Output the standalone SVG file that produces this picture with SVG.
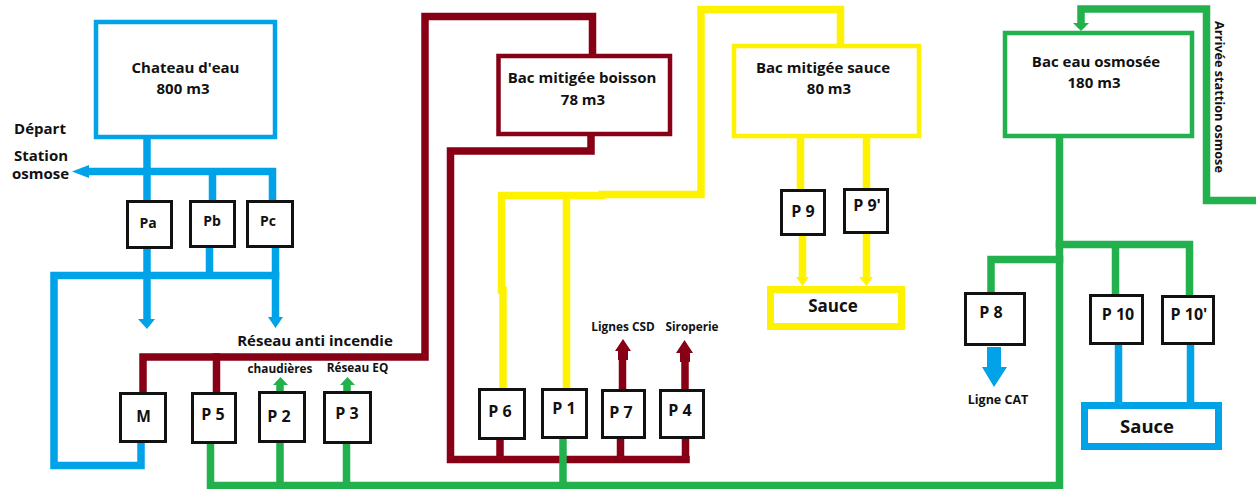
<svg xmlns="http://www.w3.org/2000/svg" width="1256" height="489" viewBox="0 0 1256 489">
<style>
text{font-family:"Open Sans","Noto Sans","Liberation Sans",sans-serif;font-weight:700;fill:#111;text-anchor:middle}
.t15{font-size:15px}.t14{font-size:14px}.t12{font-size:11.8px}.p{font-size:16px}
.pipe{fill:none;stroke-width:7.5;stroke-linecap:square;stroke-linejoin:miter}
.b{stroke:#00a2e8}.m{stroke:#880015}.y{stroke:#fff200}.g{stroke:#22b14c}
.fb{fill:#00a2e8}.fm{fill:#880015}.fy{fill:#fff200}.fg{fill:#22b14c}
.pump{fill:#fff;stroke:#111;stroke-width:3}
.tank{fill:#fff;stroke-width:4.5}
.box{fill:#fff;stroke-width:7}
</style>
<rect width="1256" height="489" fill="#fff"/>
<g id="connectors">
<g class="pipe b">
<path d="M147 139V200"/>
<path d="M88 171.5H272.5V200"/>
<path d="M212.5 172V200"/>
<path d="M147 248V320"/>
<path d="M209.5 248V275"/>
<path d="M275.5 248V318"/>
<path d="M275.5 275.5H54V465.5H141V443"/>
<path d="M1118.5 346V402"/>
<path d="M1190.5 346V402"/>
</g>
<path class="fb" d="M72 171.5L89 165V178ZM147 329L138 319H155ZM275.5 328L268 317H283ZM987 347H1001V367H1007L994 387L982 367H987Z"/>
<g class="pipe m">
<path d="M143 391V357H425V16.5H592.5V55"/>
<path d="M216.5 357V391"/>
<path d="M591 136V151H450.5V459.5H686"/>
<path d="M500 440V459"/>
<path d="M620.5 440V459"/>
<path d="M685.5 440V459"/>
<path d="M622.5 388V352"/>
<path d="M685 388V354"/>
</g>
<path class="fm" d="M623 339L631 351H628V360H618V351H615ZM684.5 340L693 353H690V362H680V353H676Z"/>
<g class="pipe y">
<path d="M503 388V290"/>
<path d="M501.5 290V195.5H602"/>
<path d="M602 194.500H701V9.500H840.500V44"/>
<path d="M566.500 196V388"/>
<path d="M800.500 138V189"/>
<path d="M802.500 236V277"/>
<path d="M866.500 138V188"/>
<path d="M866.500 234V277"/>
</g>
<path class="fy" d="M802.500 286L796 277H809ZM866.500 286L859 277H873Z"/>
<g class="pipe g">
<path d="M210.500 444V485.500H1059.500V138"/>
<path d="M280 443V485"/>
<path d="M346.500 444V485"/>
<path d="M563 439V485"/>
<path d="M1059.500 244.500H1189.500V295"/>
<path d="M1115.500 245V294"/>
<path d="M1059.500 259.500H991V292"/>
<path d="M1256 200.500H1206.500V9H1081V24"/>
<path d="M280 391V385"/>
<path d="M347 391V385"/>
</g>
<path class="fg" d="M280.500 377L288 385H273ZM347.500 377L355 385H340ZM1081 31L1073 23H1089Z"/>
</g>
<g id="chateau"><rect class="tank b" x="96" y="22" width="179" height="115"/><text class="t15" x="185.500" y="73">Chateau d'eau</text><text class="t15" x="183" y="94">800 m3</text></g>
<g id="bac-boisson"><rect class="tank m" x="498.500" y="56" width="171.500" height="78"/><text class="t15" x="582" y="83">Bac mitigée boisson</text><text class="t15" x="583" y="105">78 m3</text></g>
<g id="bac-sauce"><rect class="tank y" x="734" y="46" width="185" height="90"/><text class="t15" x="823" y="73">Bac mitigée sauce</text><text class="t15" x="829" y="94">80 m3</text></g>
<g id="bac-osmosee"><rect class="tank g" x="1005" y="33" width="187" height="103"/><text class="t15" x="1096" y="67">Bac eau osmosée</text><text class="t15" x="1094" y="88">180 m3</text></g>
<g id="sauce-jaune"><rect class="box y" x="770.500" y="289.500" width="131" height="37"/><text x="833" y="312" font-size="17">Sauce</text></g>
<g id="sauce-bleue"><rect class="box b" x="1084.500" y="405.500" width="134" height="41"/><text x="1147" y="433" font-size="18.500">Sauce</text></g>
<g id="Pa"><rect class="pump" x="127.500" y="201.500" width="44" height="46"/><text class="t14" x="148" y="228">Pa</text></g>
<g id="Pb"><rect class="pump" x="190.500" y="201.500" width="44" height="45"/><text class="t14" x="212" y="226">Pb</text></g>
<g id="Pc"><rect class="pump" x="247.500" y="201.500" width="45" height="45"/><text class="t14" x="268" y="226">Pc</text></g>
<g id="M"><rect class="pump" x="120.500" y="393.500" width="45" height="48"/><text x="143.500" y="422" font-size="15.500">M</text></g>
<g id="P5"><rect class="pump" x="192.500" y="393.500" width="43" height="49"/><text class="p" x="213" y="420">P 5</text></g>
<g id="P2"><rect class="pump" x="259.500" y="392.500" width="45" height="49"/><text class="p" x="279" y="422">P 2</text></g>
<g id="P3"><rect class="pump" x="324.500" y="392.500" width="46" height="50"/><text class="p" x="347" y="419">P 3</text></g>
<g id="P6"><rect class="pump" x="479.500" y="389.500" width="45" height="49"/><text class="p" x="500" y="417">P 6</text></g>
<g id="P1"><rect class="pump" x="542.500" y="389.500" width="44" height="48"/><text class="p" x="564" y="414">P 1</text></g>
<g id="P7"><rect class="pump" x="602.500" y="390.500" width="42" height="47"/><text class="p" x="621" y="418">P 7</text></g>
<g id="P4"><rect class="pump" x="660.500" y="390.500" width="43" height="47"/><text class="p" x="680" y="416">P 4</text></g>
<g id="P9"><rect class="pump" x="781.500" y="190.500" width="43" height="44"/><text class="p" x="803" y="217">P 9</text></g>
<g id="P9p"><rect class="pump" x="844.500" y="189.500" width="43" height="43"/><text class="p" x="867" y="211">P 9'</text></g>
<g id="P8"><rect class="pump" x="965.500" y="293.500" width="59" height="51"/><text class="p" x="991" y="318">P 8</text></g>
<g id="P10"><rect class="pump" x="1090.500" y="295.500" width="52" height="48"/><text class="p" x="1118" y="320">P 10</text></g>
<g id="P10p"><rect class="pump" x="1162.500" y="296.500" width="51" height="47"/><text class="p" x="1189" y="320">P 10'</text></g>
<g id="labels">
<text class="t15" x="40" y="134">Départ</text>
<text class="t15" x="41" y="161">Station</text>
<text class="t15" x="40.500" y="179">osmose</text>
<text class="t15" x="315" y="346">Réseau anti incendie</text>
<text class="t12" x="280" y="373">chaudières</text>
<text class="t12" x="357.500" y="372">Réseau EQ</text>
<text class="t12" x="623" y="331">Lignes CSD</text>
<text class="t12" x="692" y="331">Siroperie</text>
<text x="998" y="404" font-size="12.500">Ligne CAT</text>
<text transform="translate(1215,97) rotate(90)" font-size="12.700">Arrivée stattion osmose</text>
</g>
</svg>
